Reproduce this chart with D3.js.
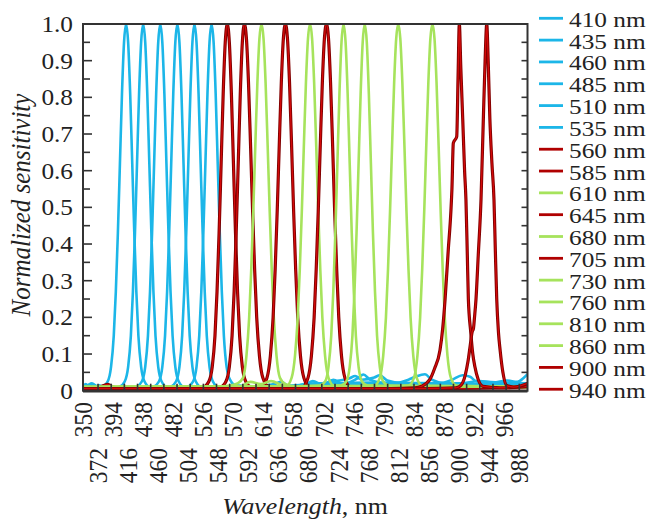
<!DOCTYPE html>
<html>
<head>
<meta charset="utf-8">
<script src="https://cdn.jsdelivr.net/npm/d3@7"></script>
<style>
  html, body { margin: 0; padding: 0; background: #fff; }
  svg text { font-family: "Liberation Serif", Tinos, "Times New Roman", Times, serif; }
</style>
</head>
<body>
<svg id="chart" width="648" height="521"></svg>
<script>
// Filter channel names (legend order) and their colour family
const bandLabels = ["410 nm","435 nm","460 nm","485 nm","510 nm","535 nm","560 nm","585 nm","610 nm",
                    "645 nm","680 nm","705 nm","730 nm","760 nm","810 nm","860 nm","900 nm","940 nm"];
const bandFamily = ["cyan","cyan","cyan","cyan","cyan","cyan","red","red","green",
                    "red","green","red","green","green","green","green","red","red"];

// Normalized sensitivity curves: [wavelength (nm), value]
const band410 = [[350,0.012],[354,0.018],[359,0.011],[364,0.017],[369,0.012],[374,0.015],[378,0.012],[386,0.025],[391,0.065],[395,0.15],[398,0.27],[401,0.43],[404,0.62],[407,0.81],[410,0.95],[413,1],[416,0.95],[419,0.81],[422,0.62],[425,0.43],[428,0.27],[431,0.15],[435,0.065],[440,0.025],[448,0.01],[500,0.006],[600,0.007],[670,0.012],[686,0.026],[700,0.016],[716,0.03],[730,0.018],[752,0.034],[760,0.044],[770,0.03],[800,0.018],[900,0.015],[1000,0.018]];
const band435 = [[350,0.01],[357,0.015],[363,0.02],[370,0.012],[380,0.01],[395,0.008],[403,0.01],[411,0.025],[416,0.065],[420,0.15],[423,0.27],[426,0.43],[429,0.62],[432,0.81],[435,0.95],[438,1],[441,0.95],[444,0.81],[447,0.62],[450,0.43],[453,0.27],[456,0.15],[460,0.065],[465,0.025],[473,0.01],[540,0.006],[640,0.01],[700,0.02],[720,0.026],[740,0.034],[748,0.04],[758,0.03],[776,0.036],[784,0.042],[795,0.028],[820,0.02],[1000,0.015]];
const band460 = [[350,0.008],[420,0.006],[428,0.01],[436,0.025],[441,0.065],[445,0.15],[448,0.27],[451,0.43],[454,0.62],[457,0.81],[460,0.95],[463,1],[466,0.95],[469,0.81],[472,0.62],[475,0.43],[478,0.27],[481,0.15],[485,0.065],[490,0.025],[498,0.01],[600,0.008],[660,0.012],[680,0.02],[700,0.016],[800,0.018],[826,0.03],[836,0.038],[850,0.045],[860,0.03],[880,0.02],[1000,0.016]];
const band485 = [[350,0.008],[445,0.006],[453,0.01],[461,0.025],[466,0.065],[470,0.15],[473,0.27],[476,0.43],[479,0.62],[482,0.81],[485,0.95],[488,1],[491,0.95],[494,0.81],[497,0.62],[500,0.43],[503,0.27],[506,0.15],[510,0.065],[515,0.025],[523,0.01],[620,0.008],[700,0.016],[870,0.02],[890,0.03],[905,0.042],[916,0.038],[925,0.026],[1000,0.02]];
const band510 = [[350,0.008],[470,0.006],[478,0.01],[486,0.025],[491,0.065],[495,0.15],[498,0.27],[501,0.43],[504,0.62],[507,0.81],[510,0.95],[513,1],[516,0.95],[519,0.81],[522,0.62],[525,0.43],[528,0.27],[531,0.15],[535,0.065],[540,0.025],[548,0.01],[630,0.01],[700,0.018],[780,0.022],[900,0.02],[930,0.026],[950,0.022],[970,0.028],[985,0.024],[995,0.036],[1000,0.045]];
const band535 = [[350,0.008],[495,0.006],[503,0.01],[511,0.025],[516,0.065],[520,0.15],[523,0.27],[526,0.43],[529,0.62],[532,0.81],[535,0.95],[538,1],[541,0.95],[544,0.81],[547,0.62],[550,0.43],[553,0.27],[556,0.15],[560,0.065],[565,0.03],[573,0.015],[600,0.012],[630,0.018],[640,0.024],[650,0.014],[700,0.02],[1000,0.015]];
const band560 = [[350,0.006],[372,0.008],[380,0.014],[386,0.017],[394,0.01],[405,0.006],[500,0.005],[526,0.01],[534,0.025],[539,0.065],[543,0.15],[546,0.27],[549,0.43],[552,0.62],[555,0.81],[558,0.95],[561,1],[564,0.95],[567,0.81],[570,0.62],[573,0.43],[576,0.27],[579,0.15],[583,0.065],[588,0.025],[596,0.01],[700,0.006],[850,0.008],[1000,0.01]];
const band585 = [[350,0.005],[520,0.005],[551,0.01],[559,0.025],[564,0.065],[568,0.15],[571,0.27],[574,0.43],[577,0.62],[580,0.81],[583,0.95],[586,1],[589,0.96],[592,0.84],[595,0.67],[598,0.49],[601,0.33],[604,0.2],[608,0.095],[613,0.035],[621,0.012],[700,0.006],[1000,0.008]];
const band610 = [[350,0.008],[540,0.01],[565,0.014],[576,0.02],[584,0.035],[589,0.095],[593,0.2],[596,0.33],[599,0.49],[602,0.67],[605,0.84],[608,0.96],[611,1],[614,0.96],[617,0.84],[620,0.67],[623,0.49],[626,0.33],[629,0.2],[633,0.095],[638,0.035],[646,0.018],[660,0.012],[800,0.01],[1000,0.012]];
const band645 = [[350,0.006],[590,0.006],[611,0.01],[619,0.035],[624,0.095],[628,0.2],[631,0.33],[634,0.49],[637,0.67],[640,0.84],[643,0.96],[646,1],[649,0.96],[652,0.84],[655,0.67],[658,0.49],[661,0.33],[664,0.2],[668,0.095],[673,0.035],[681,0.01],[800,0.006],[1000,0.01]];
const band680 = [[350,0.01],[580,0.012],[595,0.024],[610,0.018],[625,0.026],[640,0.016],[647,0.012],[655,0.035],[660,0.095],[664,0.2],[667,0.33],[670,0.49],[673,0.67],[676,0.84],[679,0.96],[682,1],[685,0.96],[688,0.84],[691,0.67],[694,0.49],[697,0.33],[700,0.2],[704,0.095],[709,0.035],[717,0.014],[800,0.012],[1000,0.01]];
const band705 = [[350,0.006],[650,0.006],[671,0.01],[679,0.035],[684,0.095],[688,0.2],[691,0.33],[694,0.49],[697,0.67],[700,0.84],[703,0.96],[706,1],[709,0.96],[712,0.84],[715,0.67],[718,0.49],[721,0.33],[724,0.2],[728,0.095],[733,0.035],[741,0.01],[850,0.006],[1000,0.012]];
const band730 = [[350,0.01],[650,0.012],[696,0.014],[704,0.025],[709,0.065],[713,0.15],[716,0.27],[719,0.43],[722,0.62],[725,0.81],[728,0.95],[731,1],[734,0.95],[737,0.81],[740,0.62],[743,0.43],[746,0.27],[749,0.15],[753,0.065],[758,0.025],[766,0.014],[850,0.012],[1000,0.01]];
const band760 = [[350,0.01],[700,0.012],[727,0.014],[735,0.025],[740,0.065],[744,0.15],[747,0.27],[750,0.43],[753,0.62],[756,0.81],[759,0.95],[762,1],[765,0.95],[768,0.81],[771,0.62],[774,0.43],[777,0.27],[780,0.15],[784,0.065],[789,0.025],[797,0.014],[900,0.012],[1000,0.01]];
const band810 = [[350,0.01],[750,0.012],[776,0.014],[784,0.035],[789,0.095],[793,0.2],[796,0.33],[799,0.49],[802,0.67],[805,0.84],[808,0.96],[811,1],[814,0.96],[817,0.84],[820,0.67],[823,0.49],[826,0.33],[829,0.2],[833,0.095],[838,0.035],[846,0.014],[900,0.012],[1000,0.01]];
const band860 = [[350,0.01],[800,0.012],[826,0.014],[834,0.035],[839,0.095],[843,0.2],[846,0.33],[849,0.49],[852,0.67],[855,0.84],[858,0.96],[861,1],[864,0.96],[867,0.84],[870,0.67],[873,0.49],[876,0.33],[879,0.2],[883,0.095],[888,0.035],[896,0.014],[940,0.012],[1000,0.012]];
const band900 = [[350,0.006],[800,0.006],[835,0.008],[845,0.012],[857,0.03],[864,0.06],[872,0.11],[876,0.17],[879.5,0.25],[884,0.38],[888,0.49],[889.5,0.55],[891.5,0.675],[896.5,0.693],[898.5,0.86],[900.3,1],[902.5,0.88],[905.3,0.74],[908,0.6],[910,0.52],[912,0.37],[913.5,0.25],[917,0.16],[920,0.1],[923,0.066],[928,0.03],[935,0.012],[960,0.008],[1000,0.012]];
const band940 = [[350,0.006],[850,0.006],[895,0.008],[901,0.012],[908.6,0.04],[913,0.08],[916,0.12],[919,0.16],[921,0.17],[922.5,0.2],[924.7,0.25],[928,0.37],[932,0.52],[935.4,0.74],[938,0.9],[940.4,1],[942.5,0.9],[945,0.74],[948,0.62],[951,0.52],[953,0.38],[955,0.25],[957.5,0.16],[960,0.11],[964,0.05],[969.6,0.014],[980,0.01],[1000,0.02]];

const bandCurves = [band410, band435, band460, band485, band510, band535, band560, band585, band610,
                    band645, band680, band705, band730, band760, band810, band860, band900, band940];

// Axis tick values
const xTickLabels = [350,372,394,416,438,460,482,504,526,548,570,592,614,636,658,680,702,724,746,768,790,812,834,856,878,900,922,944,966,988];
const xTickMarkStart = 372, xTickMarkStep = 19.25, xTickMarkCount = 33;
const yTickLabels = [0,0.1,0.2,0.3,0.4,0.5,0.6,0.7,0.8,0.9,1.0];

// ---- drawing ----
const FONT = "'Liberation Serif', Tinos, 'Times New Roman', Times, serif";
const svg = d3.select("#chart");
const margin = {left: 83, right: 120.5, top: 24, bottom: 130.3};
const W = 648, H = 521;
const x = d3.scaleLinear().domain([350, 1000]).range([margin.left, W - margin.right]);
const y = d3.scaleLinear().domain([0, 1]).range([H - margin.bottom, margin.top]);

const palette = {cyan: "#1cb6e8", green: "#a6e35c", red: "#b00000"};
const SX = 1.1; // glyph width factor used for all labels

svg.append("defs").append("clipPath").attr("id", "plotClip")
  .append("rect").attr("x", x(350)).attr("y", y(1) - 1)
  .attr("width", x(1000) - x(350)).attr("height", y(0) - y(1) + 1);

const line = d3.line().x(d => x(d[0])).y(d => y(d[1])).curve(d3.curveMonotoneX);
const plot = svg.append("g").attr("clip-path", "url(#plotClip)");

bandCurves.forEach((pts, i) => {
  const fam = bandFamily[i];
  if (fam === "red") {
    plot.append("path").attr("d", line(pts)).attr("fill", "none")
      .attr("stroke", "#820000").attr("stroke-width", 3.2).attr("stroke-linejoin", "round");
    plot.append("path").attr("d", line(pts)).attr("fill", "none")
      .attr("stroke", "#d40a0a").attr("stroke-width", 1.3).attr("stroke-linejoin", "round");
  } else {
    plot.append("path").attr("d", line(pts)).attr("fill", "none")
      .attr("stroke", palette[fam]).attr("stroke-width", 2.6).attr("stroke-linejoin", "round");
  }
});

// frame
const axisColor = "#333";
svg.append("rect").attr("x", x(350)).attr("y", y(1))
  .attr("width", x(1000) - x(350)).attr("height", y(0) - y(1))
  .attr("fill", "none").attr("stroke", axisColor).attr("stroke-width", 2);
svg.append("line").attr("x1", x(350)).attr("x2", x(1000)).attr("y1", y(0) + 0.5).attr("y2", y(0) + 0.5)
  .attr("stroke", axisColor).attr("stroke-width", 2.5);

// y ticks (left: major + half steps; right: half steps)
const ticks = svg.append("g").attr("stroke", axisColor).attr("stroke-width", 1.6);
d3.range(1, 20).forEach(k => {
  const v = k * 0.05, yy = y(v);
  const major = k % 2 === 0;
  ticks.append("line").attr("x1", x(350)).attr("x2", x(350) + (major ? 9 : 7)).attr("y1", yy).attr("y2", yy);
  ticks.append("line").attr("x1", x(1000)).attr("x2", x(1000) - 6).attr("y1", yy).attr("y2", yy);
});
// bottom tick marks
d3.range(xTickMarkCount).forEach(k => {
  const xx = x(xTickMarkStart + k * xTickMarkStep);
  ticks.append("line").attr("x1", xx).attr("x2", xx).attr("y1", y(0)).attr("y2", y(0) - 7);
});

function label(g, text, tx, ty, extra) {
  return g.append("text").attr("font-family", FONT)
    .attr("transform", `translate(${tx},${ty}) scale(${SX},1)` + (extra || ""))
    .text(text);
}

// y tick labels
const yl = svg.append("g").attr("font-size", 23).attr("fill", "#222").attr("text-anchor", "end");
yTickLabels.forEach(v => {
  label(yl, v === 0 ? "0" : d3.format(".1f")(v), 73, y(v)).attr("dy", "0.34em");
});

// x tick labels, rotated, alternating between two rows
const xl = svg.append("g").attr("font-size", 23.5).attr("fill", "#222").attr("text-anchor", "end");
xTickLabels.forEach((v, i) => {
  label(xl, String(v), x(v), i % 2 === 0 ? 402 : 448, " rotate(-90)").attr("dy", "0.34em");
});

// axis titles
const xt = svg.append("text").attr("font-family", FONT).attr("font-size", 23.5).attr("fill", "#222")
  .attr("text-anchor", "middle")
  .attr("transform", `translate(305,514) scale(${SX},1)`);
xt.append("tspan").attr("font-style", "italic").text("Wavelength");
xt.append("tspan").text(", nm");

svg.append("text").attr("font-family", FONT).attr("font-size", 25).attr("fill", "#222")
  .attr("text-anchor", "middle").attr("font-style", "italic")
  .attr("transform", `translate(30,205) scale(${SX},1) rotate(-90)`)
  .text("Normalized sensitivity");

// legend
const legend = svg.append("g");
bandLabels.forEach((name, i) => {
  const cy = 18.3 + i * 21.82;
  const col = palette[bandFamily[i]];
  legend.append("line").attr("x1", 539).attr("x2", 563).attr("y1", cy).attr("y2", cy)
    .attr("stroke", col).attr("stroke-width", 2.8);
  legend.append("text").attr("font-family", FONT).attr("font-size", 22).attr("fill", "#222")
    .attr("transform", `translate(569,${cy + 8.5}) scale(1.15,1)`).text(name);
});
</script>
</body>
</html>
